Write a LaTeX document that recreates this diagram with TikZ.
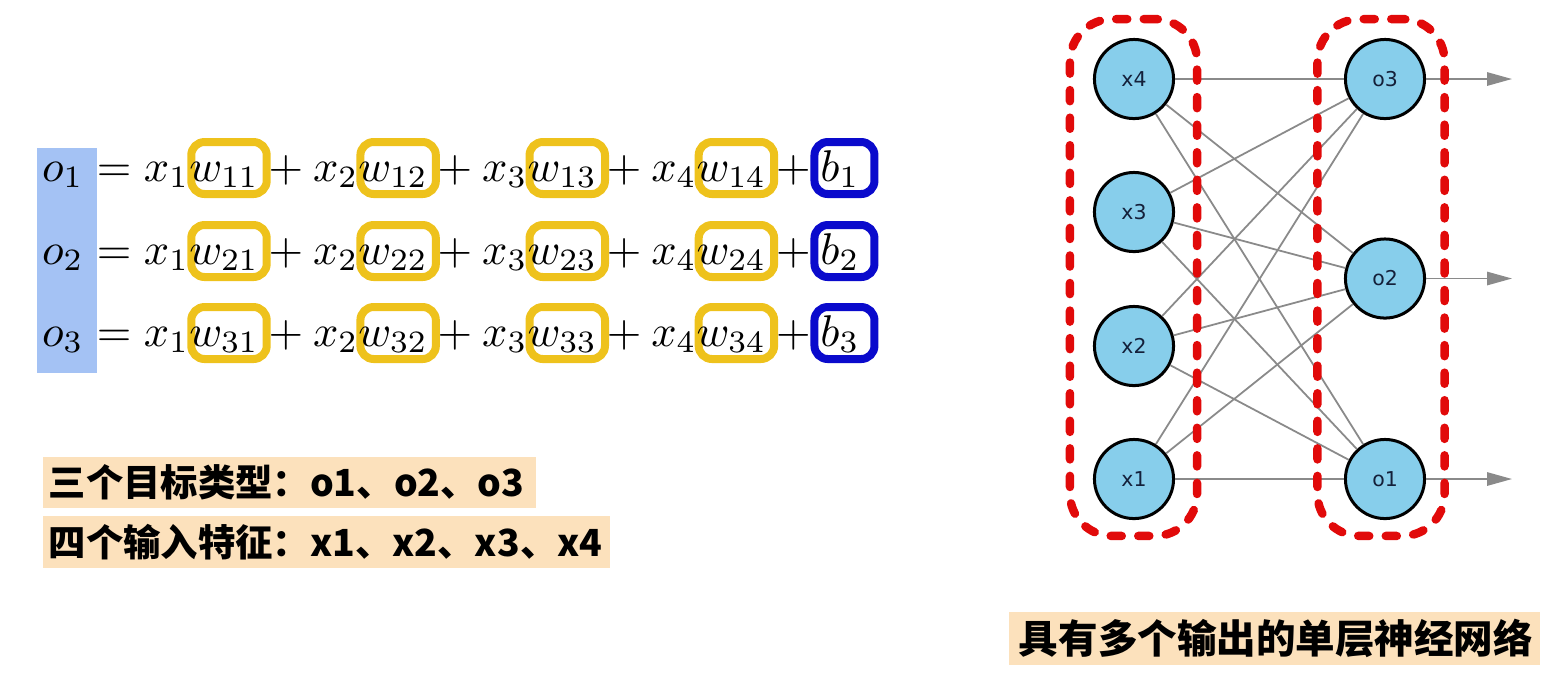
\documentclass[tikz,border=0pt]{standalone}
\usepackage{fontspec}
\newfontfamily\cjkm{Noto Sans CJK SC}
\newfontfamily\dvs{DejaVu Sans}
\usetikzlibrary{calc,arrows.meta}
\definecolor{ygold}{HTML}{EEC21C}
\definecolor{bbox}{HTML}{0A0ACC}
\definecolor{ohl}{HTML}{A4C2F4}
\definecolor{lbg}{HTML}{FCE1BC}
\definecolor{sky}{HTML}{87CEEB}
\definecolor{rdash}{HTML}{E10A0A}
\definecolor{edge}{HTML}{8A8A8A}
\definecolor{ntext}{HTML}{14203A}
\pgfdeclarelayer{bg}
\pgfsetlayers{bg,main}
\begin{document}
\begin{tikzpicture}[x=0.225pt,y=-0.225pt,
 tok/.style={inner sep=0pt,outer sep=0pt,anchor=base west},
 ybox/.style={draw=ygold,line width=1.8pt,rounded corners=3pt},
 bbx/.style={draw=bbox,line width=1.8pt,rounded corners=3pt},
 neuron/.style={circle,draw=black,line width=0.675pt,fill=sky,minimum size=17.8pt,inner sep=0pt,font=\dvs\fontsize{4.6pt}{5pt}\selectfont,text=ntext},
 conn/.style={draw=edge,line width=0.4pt},
 grp/.style={draw=rdash,line width=1.9pt,dash pattern=on 2.5pt off 3.7pt,line cap=round,rounded corners=9.5pt,minimum width=28.6pt,minimum height=116.3pt,inner sep=0pt},
 lbl/.style={fill=lbg,inner xsep=1.35pt,inner ysep=0pt,anchor=west,align=left,font=\cjkm\bfseries\fontsize{8.4pt}{9pt}\selectfont}
]
\useasboundingbox (0,0) rectangle (1548,676);

% equations
\foreach \r/\y in {1/181,2/264,3/346}{
  \node[tok] (o\r) at (42,\y) {$o_{\r}$};
  \node[tok] (eq\r) at (97,\y) {$=$};
  \node[tok] (ex\r1) at ($(eq\r.base east)+(12.35,0)$) {$x_{1}$};
  \node[tok] (ew\r1) at (ex\r1.base east) {$w_{\r1}$};
  \node[tok] (ep\r1) at ($(ew\r1.base east)+(9.88,0)$) {$+$};
  \foreach \t/\s in {2/1,3/2,4/3}{
    \node[tok] (ex\r\t) at ($(ep\r\s.base east)+(9.88,0)$) {$x_{\t}$};
    \node[tok] (ew\r\t) at (ex\r\t.base east) {$w_{\r\t}$};
    \node[tok] (ep\r\t) at ($(ew\r\t.base east)+(9.88,0)$) {$+$};
  }
  \node[tok] (eb\r) at ($(ep\r4.base east)+(9.88,0)$) {$b_{\r}$};
}

\begin{pgfonlayer}{bg}
  \fill[ohl] (37,148) rectangle (97,373);
  \foreach \r in {1,2,3}{
    \foreach \t in {1,...,4}{
      \draw[ybox] ($(ew\r\t.base west)+(2,-39)$) rectangle ($(ew\r\t.base east)+(8,13)$);
    }
    \draw[bbx] ($(eb\r.base west)+(-6,-39)$) rectangle ($(eb\r.base east)+(15,13)$);
  }
\end{pgfonlayer}

% labels
\node[lbl,text width=108.2pt,minimum height=11.5pt] (lab1) at (42,482.5) {三个目标类型：o1、o2、o3};
\node[lbl,text width=124.9pt,minimum height=11.7pt] (lab2) at (42,542) {四个输入特征：x1、x2、x3、x4};
\node[lbl,text width=115pt,inner xsep=2.25pt,minimum height=11.9pt,font=\cjkm\bfseries\fontsize{8.9pt}{10pt}\selectfont] (lab3) at (1008,638.5) {具有多个输出的单层神经网络};

% network
\node[neuron] (nx4) at (1134,79) {x4};
\node[neuron] (nx3) at (1134,212) {x3};
\node[neuron] (nx2) at (1134,346) {x2};
\node[neuron] (nx1) at (1134,479) {x1};
\node[neuron] (no3) at (1385,79) {o3};
\node[neuron] (no2) at (1385,278.5) {o2};
\node[neuron] (no1) at (1385,479) {o1};
\coordinate (ot3) at (1512,79);
\coordinate (ot2) at (1512,278.5);
\coordinate (ot1) at (1512,479);
\foreach \i in {1,...,4}{
  \foreach \j in {1,2,3}{
    \draw[conn] (nx\i) -- (no\j);
  }
}
\foreach \j in {1,2,3}{
  \draw[conn,-{Triangle[length=5.6pt,width=3pt]}] (no\j) -- (ot\j);
}
\node[grp] (gin) at (1133.5,277.5) {};
\node[grp] (gout) at (1381,277.5) {};
\end{tikzpicture}
\end{document}
